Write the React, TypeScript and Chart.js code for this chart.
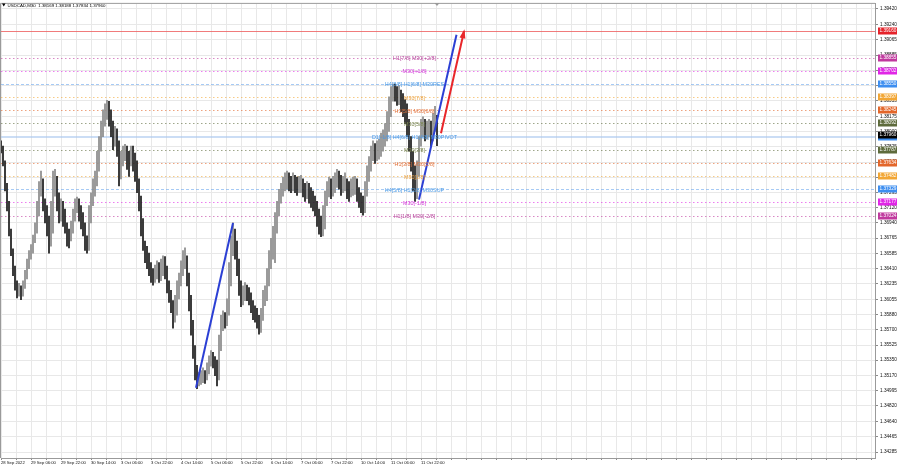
import { useEffect, useRef } from "react";
import { Chart, registerables } from "chart.js";

Chart.register(...registerables);

const FONT = '"Liberation Sans", Arial, sans-serif';

const symbolName = "USDCAD,M30";

// time labels and the bar index (H1 bar slots) each one sits on
const xLabels = [
  "28 Sep 2022", "29 Sep 06:00", "29 Sep 22:00", "30 Sep 14:00", "3 Oct 06:00",
  "3 Oct 22:00", "4 Oct 14:00", "5 Oct 06:00", "5 Oct 22:00", "6 Oct 14:00",
  "7 Oct 06:00", "7 Oct 22:00", "10 Oct 14:00", "11 Oct 06:00", "11 Oct 22:00",
];
const xLabelBars = [0, 15, 30, 45, 60, 75, 90, 105, 120, 135, 150, 165, 180, 195, 210];

const yTicks = [
  1.34285, 1.34465, 1.3464, 1.3482, 1.34995, 1.3517, 1.3535, 1.35525, 1.357, 1.3588,
  1.36055, 1.36235, 1.3641, 1.36585, 1.36765, 1.3694, 1.3712, 1.37295, 1.3747, 1.37645,
  1.37825, 1.38, 1.38175, 1.38355, 1.3853, 1.3871, 1.38885, 1.39065, 1.3924, 1.3942,
];

const firstOpen = 1.379;

const highs = [
  1.3789, 1.3783, 1.3766, 1.3740, 1.3719, 1.3687, 1.3664, 1.3644, 1.3627, 1.3624,
  1.3621, 1.3627, 1.3639, 1.3652, 1.3662, 1.3669, 1.3680, 1.3694, 1.3719, 1.3742,
  1.3754, 1.3745, 1.3722, 1.3714, 1.3702, 1.3719, 1.3754, 1.3756, 1.3748, 1.3729,
  1.3722, 1.3719, 1.3710, 1.3694, 1.3687, 1.3696, 1.3710, 1.3722, 1.3724, 1.3722,
  1.3714, 1.3706, 1.3694, 1.3679, 1.3714, 1.3729, 1.3745, 1.3754, 1.3777, 1.3794,
  1.3812, 1.3825, 1.3832, 1.3836, 1.3835, 1.3825, 1.3812, 1.3806, 1.3803, 1.3789,
  1.3777, 1.3783, 1.3785, 1.3783, 1.3777, 1.3783, 1.3783, 1.3775, 1.3766, 1.3745,
  1.3725, 1.3699, 1.3673, 1.3667, 1.3659, 1.3648, 1.3641, 1.3645, 1.3650, 1.3648,
  1.3652, 1.3656, 1.3655, 1.3644, 1.3627, 1.3616, 1.3604, 1.3610, 1.3627, 1.3636,
  1.3650, 1.3662, 1.3665, 1.3656, 1.3636, 1.3610, 1.3581, 1.3552, 1.3529, 1.3521,
  1.3523, 1.3526, 1.3523, 1.3532, 1.3540, 1.3546, 1.3544, 1.3539, 1.3535, 1.3564,
  1.3587, 1.3592, 1.3590, 1.3606, 1.3648, 1.3679, 1.3694, 1.3687, 1.3673, 1.3652,
  1.3627, 1.3621, 1.3625, 1.3622, 1.3619, 1.3613, 1.3604, 1.3598, 1.3595, 1.3587,
  1.3595, 1.3616, 1.3621, 1.3641, 1.3662, 1.3676, 1.3690, 1.3706, 1.3719, 1.3733,
  1.3740, 1.3747, 1.3752, 1.3754, 1.3752, 1.3748, 1.3752, 1.3749, 1.3747, 1.3748,
  1.3749, 1.3745, 1.3740, 1.3742, 1.3740, 1.3735, 1.3731, 1.3725, 1.3719, 1.3710,
  1.3702, 1.3714, 1.3731, 1.3742, 1.3747, 1.3745, 1.3748, 1.3752, 1.3756, 1.3754,
  1.3749, 1.3748, 1.3752, 1.3745, 1.3742, 1.3745, 1.3747, 1.3748, 1.3745, 1.3735,
  1.3729, 1.3725, 1.3742, 1.3760, 1.3771, 1.3783, 1.3789, 1.3786, 1.3789, 1.3791,
  1.3798, 1.3802, 1.3809, 1.3823, 1.3840, 1.3852, 1.3855, 1.3855, 1.3852, 1.3853,
  1.3848, 1.3844, 1.3837, 1.3832, 1.3814, 1.3794, 1.3777, 1.3760, 1.3766, 1.3794,
  1.3814, 1.3817, 1.3814, 1.3812, 1.3814, 1.3812, 1.3821, 1.3829, 1.38188,
];

const lows = [
  1.3775, 1.3760, 1.3731, 1.3708, 1.3679, 1.3656, 1.3633, 1.3616, 1.3607, 1.3609,
  1.3605, 1.3609, 1.3618, 1.3629, 1.3641, 1.3652, 1.3659, 1.3671, 1.3682, 1.3702,
  1.3725, 1.3708, 1.3694, 1.3679, 1.3659, 1.3667, 1.3682, 1.3725, 1.3708, 1.3694,
  1.3696, 1.3690, 1.3682, 1.3667, 1.3665, 1.3673, 1.3682, 1.3696, 1.3706, 1.3696,
  1.3687, 1.3679, 1.3662, 1.3659, 1.3662, 1.3694, 1.3714, 1.3725, 1.3737, 1.3754,
  1.3777, 1.3794, 1.3806, 1.3814, 1.3806, 1.3794, 1.3779, 1.3783, 1.3771, 1.3737,
  1.3745, 1.3760, 1.3766, 1.3756, 1.3748, 1.3760, 1.3754, 1.3742, 1.3729, 1.3708,
  1.3679, 1.3662, 1.3648, 1.3641, 1.3633, 1.3625, 1.3622, 1.3625, 1.3629, 1.3625,
  1.3627, 1.3633, 1.3629, 1.3613, 1.3602, 1.3590, 1.3572, 1.3579, 1.3587, 1.3606,
  1.3621, 1.3633, 1.3641, 1.3621, 1.3592, 1.3564, 1.3537, 1.3512, 1.3502, 1.3505,
  1.3507, 1.3509, 1.3508, 1.3512, 1.3519, 1.3528, 1.3526, 1.3517, 1.3505, 1.3512,
  1.3546, 1.3569, 1.3572, 1.3575, 1.3587, 1.3621, 1.3656, 1.3652, 1.3633, 1.3610,
  1.3597, 1.3599, 1.3604, 1.3604, 1.3599, 1.3590, 1.3582, 1.3579, 1.3572, 1.3565,
  1.3567, 1.3581, 1.3598, 1.3604, 1.3621, 1.3641, 1.3652, 1.3648, 1.3682, 1.3702,
  1.3717, 1.3725, 1.3731, 1.3733, 1.3731, 1.3729, 1.3731, 1.3729, 1.3726, 1.3729,
  1.3729, 1.3724, 1.3719, 1.3722, 1.3717, 1.3712, 1.3708, 1.3702, 1.3690, 1.3681,
  1.3678, 1.3679, 1.3687, 1.3714, 1.3724, 1.3722, 1.3725, 1.3729, 1.3735, 1.3733,
  1.3726, 1.3729, 1.3731, 1.3722, 1.3719, 1.3724, 1.3726, 1.3727, 1.3719, 1.3712,
  1.3706, 1.3703, 1.3706, 1.3725, 1.3742, 1.3754, 1.3766, 1.3763, 1.3766, 1.3768,
  1.3771, 1.3777, 1.3783, 1.3789, 1.3800, 1.3817, 1.3835, 1.3835, 1.3830, 1.3831,
  1.3823, 1.3817, 1.3809, 1.3794, 1.3777, 1.3754, 1.3731, 1.3719, 1.3722, 1.3748,
  1.3783, 1.3794, 1.3789, 1.3791, 1.3794, 1.3783, 1.3789, 1.3800, 1.37834,
];

const closes = [
  1.3779, 1.3766, 1.3737, 1.3714, 1.3685, 1.3662, 1.3639, 1.3621, 1.3613, 1.3618,
  1.3610, 1.3621, 1.3633, 1.3644, 1.3656, 1.3662, 1.3673, 1.3685, 1.3708, 1.3731,
  1.3742, 1.3714, 1.3702, 1.3690, 1.3673, 1.3685, 1.3737, 1.3748, 1.3719, 1.3702,
  1.3714, 1.3702, 1.3690, 1.3679, 1.3676, 1.3685, 1.3699, 1.3714, 1.3719, 1.3708,
  1.3699, 1.3690, 1.3673, 1.3667, 1.3702, 1.3719, 1.3731, 1.3742, 1.3760, 1.3783,
  1.3800, 1.3812, 1.3821, 1.3829, 1.3817, 1.3806, 1.3789, 1.3794, 1.3783, 1.3754,
  1.3766, 1.3771, 1.3777, 1.3768, 1.3766, 1.3777, 1.3766, 1.3760, 1.3742, 1.3719,
  1.3690, 1.3667, 1.3656, 1.3652, 1.3641, 1.3633, 1.3629, 1.3636, 1.3641, 1.3633,
  1.3639, 1.3648, 1.3641, 1.3621, 1.3610, 1.3598, 1.3582, 1.3592, 1.3616, 1.3627,
  1.3639, 1.3648, 1.3652, 1.3633, 1.3604, 1.3575, 1.3546, 1.3523, 1.3509, 1.3512,
  1.3514, 1.3516, 1.3514, 1.3523, 1.3532, 1.3537, 1.3535, 1.3529, 1.3514, 1.3552,
  1.3575, 1.3582, 1.3581, 1.3592, 1.3633, 1.3667, 1.3687, 1.3667, 1.3644, 1.3621,
  1.3604, 1.3610, 1.3616, 1.3613, 1.3610, 1.3598, 1.3592, 1.3587, 1.3581, 1.3572,
  1.3587, 1.3604, 1.3610, 1.3627, 1.3648, 1.3662, 1.3673, 1.3690, 1.3708, 1.3722,
  1.3731, 1.3737, 1.3739, 1.3742, 1.3740, 1.3737, 1.3742, 1.3739, 1.3735, 1.3738,
  1.3739, 1.3733, 1.3729, 1.3734, 1.3729, 1.3722, 1.3719, 1.3714, 1.3702, 1.3690,
  1.3685, 1.3690, 1.3719, 1.3731, 1.3737, 1.3733, 1.3737, 1.3740, 1.3745, 1.3742,
  1.3737, 1.3739, 1.3742, 1.3733, 1.3731, 1.3734, 1.3737, 1.3739, 1.3731, 1.3722,
  1.3714, 1.3710, 1.3731, 1.3748, 1.3760, 1.3771, 1.3777, 1.3775, 1.3777, 1.3779,
  1.3783, 1.3789, 1.3794, 1.3806, 1.3823, 1.3840, 1.3846, 1.3844, 1.3840, 1.3843,
  1.3835, 1.3829, 1.3823, 1.3806, 1.3789, 1.3766, 1.3742, 1.3725, 1.3754, 1.3789,
  1.3806, 1.3809, 1.3800, 1.3803, 1.3806, 1.3794, 1.3806, 1.38169, 1.3796,
];

// Murrey-math style levels
const levelPrices = [
  1.38855, 1.38702, 1.3855, 1.38397, 1.38245, 1.38092, 1.37939, 1.37787, 1.37634,
  1.37482, 1.37329, 1.37177, 1.37024,
];
const levelNames = [
  "H1[7/8] M30[+2/8]", "M30[+1/8]", "H4[8/8] H1[6/8] M30RES", "M30[7/8]",
  "H1[5/8] M30[6/8]", "M30[5/8]", "D1[-1/8] H4[6/8] H1[4/8] M30PIVOT", "M30[3/8]",
  "H1[3/8] M30[2/8]", "M30[1/8]", "H4[5/8] H1[2/8] M30SUP", "M30[-1/8]", "H1[1/8] M30[-2/8]",
];
const targetPrice = 1.3916;

// trend lines (bar index, price)
const blue1X = [97.5, 116];
const blue1Y = [1.3503, 1.3694];
const blue2X = [209, 227.75];
const blue2Y = [1.3721, 1.3912];
const redX = [220, 231.5];
const redY = [1.3798, 1.3916];

// ---- styling ----
const PURPLE = "#c0399e";
const MAGENTA = "#e026e6";
const BLUE = "#3d8ef0";
const ORANGE = "#f2a634";
const ORED = "#e3662a";
const OLIVE = "#5e6b3c";
const levelColors = [PURPLE, MAGENTA, BLUE, ORANGE, ORED, OLIVE, BLUE, OLIVE, ORED, ORANGE, BLUE, MAGENTA, PURPLE];
const levelTextColors = ["#b84a9e", "#d03cd6", "#4a9ae6", "#eba447", "#e2743e", "#7a8650", "#4a9ae6", "#7a8650", "#e2743e", "#eba447", "#4a9ae6", "#d03cd6", "#b84a9e"];
const X_MIN = 0;
const X_MAX = 437;
const GRID_STEP = 7.5;
const LEVEL_LABEL_BAR = 206.75;

const overlay = {
  id: "overlay",
  beforeDatasetsDraw(chart: any) {
    const { ctx, chartArea: a, scales } = chart;
    const ys = scales.y;
    ctx.save();
    ctx.beginPath();
    ctx.rect(a.left, a.top, a.right - a.left, a.bottom - a.top);
    ctx.clip();
    let yy = Math.round(ys.getPixelForValue(targetPrice)) + 0.5;
    ctx.strokeStyle = "rgba(236,90,90,0.8)";
    ctx.lineWidth = 1;
    ctx.setLineDash([]);
    ctx.beginPath();
    ctx.moveTo(a.left, yy);
    ctx.lineTo(a.right, yy);
    ctx.stroke();
    levelPrices.forEach((p, i) => {
      yy = Math.round(ys.getPixelForValue(p)) + 0.5;
      ctx.globalAlpha = 0.6;
      if (i === 6) {
        ctx.strokeStyle = "#a9c7ee";
        ctx.lineWidth = 2;
        ctx.setLineDash([]);
        yy = Math.round(ys.getPixelForValue(p));
      } else if (i === 2 || i === 10) {
        ctx.strokeStyle = "#6aa6ee";
        ctx.lineWidth = 1;
        ctx.setLineDash([3, 2]);
      } else {
        ctx.strokeStyle = levelColors[i];
        ctx.lineWidth = 1;
        ctx.setLineDash([1.5, 2.5]);
      }
      ctx.beginPath();
      ctx.moveTo(a.left, yy);
      ctx.lineTo(a.right, yy);
      ctx.stroke();
      ctx.globalAlpha = 1;
    });
    ctx.restore();
  },
  afterDatasetsDraw(chart: any) {
    const { ctx, scales } = chart;
    const xs = scales.x;
    const ys = scales.y;
    ctx.save();
    ctx.font = `5.4px ${FONT}`;
    ctx.textAlign = "center";
    ctx.textBaseline = "middle";
    const lx = xs.getPixelForValue(LEVEL_LABEL_BAR);
    levelPrices.forEach((p, i) => {
      ctx.fillStyle = levelTextColors[i];
      ctx.fillText(levelNames[i], lx, ys.getPixelForValue(p) + 1);
    });
    const x1 = xs.getPixelForValue(redX[0]);
    const y1 = ys.getPixelForValue(redY[0]);
    const x2 = xs.getPixelForValue(redX[1]);
    const y2 = ys.getPixelForValue(redY[1]);
    const ang = Math.atan2(y2 - y1, x2 - x1);
    const L = 7, W = 3;
    ctx.fillStyle = "#e8262a";
    ctx.beginPath();
    ctx.moveTo(x2 + 2 * Math.cos(ang), y2 + 2 * Math.sin(ang));
    ctx.lineTo(x2 - L * Math.cos(ang) + W * Math.sin(ang), y2 - L * Math.sin(ang) - W * Math.cos(ang));
    ctx.lineTo(x2 - L * Math.cos(ang) - W * Math.sin(ang), y2 - L * Math.sin(ang) + W * Math.cos(ang));
    ctx.closePath();
    ctx.fill();
    ctx.restore();
  },
  afterDraw(chart: any) {
    const { ctx, chartArea: a, scales } = chart;
    const xs = scales.x;
    const ys = scales.y;
    ctx.save();
    ctx.strokeStyle = "#9a9a9a";
    ctx.lineWidth = 1;
    ctx.beginPath();
    ctx.moveTo(a.left - 0.5, a.bottom);
    ctx.lineTo(a.left - 0.5, a.top - 0.5);
    ctx.lineTo(a.right, a.top - 0.5);
    ctx.stroke();
    const sx = xs.getPixelForValue(closes.length - 1);
    ctx.fillStyle = "#9a9a9a";
    ctx.beginPath();
    ctx.moveTo(sx - 2.5, a.top - 1);
    ctx.lineTo(sx + 2.5, a.top - 1);
    ctx.lineTo(sx, a.top + 2);
    ctx.closePath();
    ctx.fill();
    const n = closes.length - 1;
    const head = `${symbolName}  ${closes[n - 1].toFixed(5)} ${highs[n].toFixed(5)} ${lows[n].toFixed(5)} ${closes[n].toFixed(5)}`;
    ctx.fillStyle = "#000";
    ctx.beginPath();
    ctx.moveTo(2, 3.5);
    ctx.lineTo(5.5, 3.5);
    ctx.lineTo(3.75, 6.5);
    ctx.closePath();
    ctx.fill();
    ctx.font = `4.4px ${FONT}`;
    ctx.textAlign = "left";
    ctx.textBaseline = "middle";
    ctx.fillText(head, 7.5, 5.5);
    const tags: { p: number; c: string }[] = [{ p: targetPrice, c: "#e5232a" }];
    levelPrices.forEach((p, i) => tags.push({ p, c: levelColors[i] }));
    tags.push({ p: closes[n], c: "#000000" });
    ctx.font = `4.7px ${FONT}`;
    tags.forEach((t) => {
      const y = ys.getPixelForValue(t.p);
      ctx.fillStyle = t.c;
      ctx.fillRect(a.right + 3, Math.round(y) - 3.5, 19, 7);
      ctx.fillStyle = "#ffffff";
      ctx.fillText(t.p.toFixed(5), a.right + 4.5, Math.round(y) + 0.2);
    });
    ctx.restore();
  },
};

export default function App() {
  const ref = useRef<HTMLCanvasElement | null>(null);
  useEffect(() => {
    if (!ref.current) return;
    const opens = closes.map((c, i) => (i === 0 ? firstOpen : closes[i - 1]));
    const barData = closes.map((_, i) => ({ x: i, y: [lows[i], highs[i]] }));
    const barColors = closes.map((c, i) => (c >= opens[i] ? "#8e8e8e" : "#222222"));
    const pts = (xs: number[], ys: number[]) => xs.map((x, i) => ({ x, y: ys[i] }));
    const chart = new Chart(ref.current, {
      type: "bar",
      data: {
        datasets: [
          {
            type: "bar",
            data: barData as any,
            backgroundColor: barColors,
            barThickness: 1.1,
            grouped: false,
            order: 5,
          } as any,
          { type: "line", data: pts(blue1X, blue1Y), borderColor: "#2b3fd4", borderWidth: 2, pointRadius: 0, order: 1 } as any,
          { type: "line", data: pts(blue2X, blue2Y), borderColor: "#2b3fd4", borderWidth: 2, pointRadius: 0, order: 1 } as any,
          { type: "line", data: pts(redX, redY), borderColor: "#e8262a", borderWidth: 2, pointRadius: 0, order: 1 } as any,
        ],
      },
      options: {
        animation: false,
        responsive: false,
        maintainAspectRatio: false,
        devicePixelRatio: 1,
        layout: { padding: { left: 1, top: 2, right: 0, bottom: 0 } },
        plugins: { legend: { display: false }, tooltip: { enabled: false }, title: { display: false } },
        scales: {
          x: {
            type: "linear",
            min: X_MIN,
            max: X_MAX,
            offset: false,
            afterBuildTicks: (s: any) => {
              const t = [];
              for (let v = X_MIN; v <= X_MAX; v += GRID_STEP) t.push({ value: v });
              s.ticks = t;
            },
            afterFit: (s: any) => {
              s.height = 10;
            },
            ticks: {
              autoSkip: false,
              maxRotation: 0,
              minRotation: 0,
              align: "start",
              padding: 1,
              color: "#111",
              font: { family: FONT, size: 4.2, lineHeight: 1 },
              callback: (v: any) => {
                const i = xLabelBars.indexOf(Number(v));
                return i >= 0 ? xLabels[i] : "";
              },
            },
            grid: { offset: false, color: "#e8e8e8", tickLength: 2, tickColor: "#8a8a8a" },
            border: { display: true, color: "#9a9a9a" },
          },
          y: {
            type: "linear",
            position: "right",
            min: 1.34216,
            max: 1.39478,
            beginAtZero: false,
            afterBuildTicks: (s: any) => {
              s.ticks = yTicks.map((v) => ({ value: v }));
            },
            afterFit: (s: any) => {
              s.width = 25;
            },
            ticks: {
              padding: 2,
              color: "#111",
              font: { family: FONT, size: 4.7, lineHeight: 0.8 },
              callback: (v: any) => Number(v).toFixed(5),
            },
            grid: { color: "#e8e8e8", tickLength: 3, tickColor: "#8a8a8a" },
            border: { display: true, color: "#9a9a9a" },
          },
        },
      } as any,
      plugins: [overlay],
    });
    return () => chart.destroy();
  }, []);
  return (
    <div style={{ position: "absolute", left: 0, top: 0, width: 900, height: 468, background: "#fff" }}>
      <canvas ref={ref} width={900} height={468} style={{ display: "block", width: 900, height: 468 }} />
    </div>
  );
}
